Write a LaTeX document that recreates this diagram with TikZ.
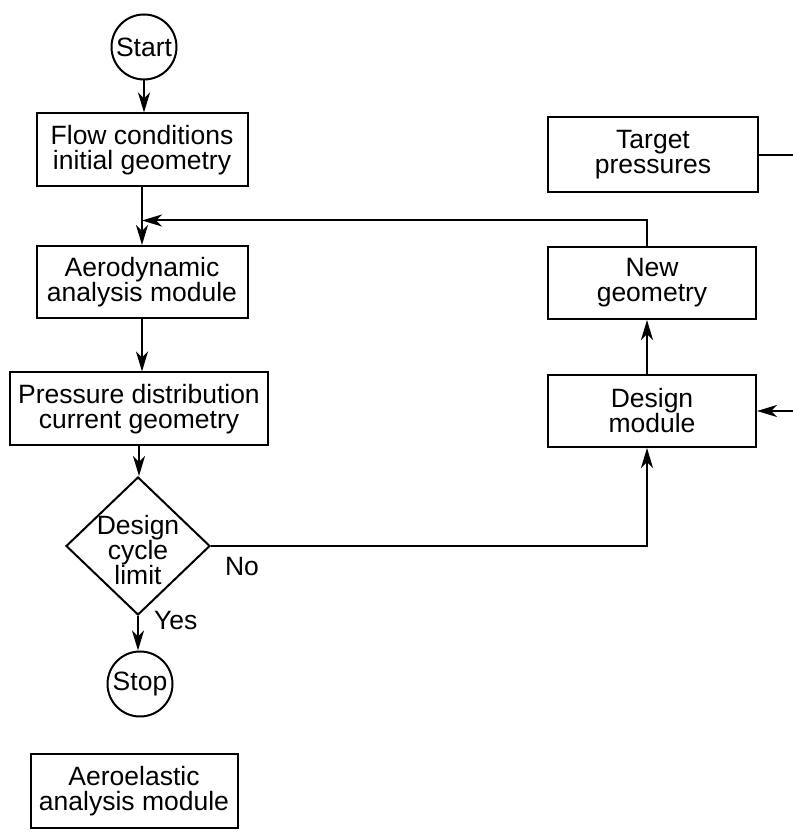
\documentclass[tikz,border=0pt]{standalone}
\usepackage{fontspec}
\setmainfont{Liberation Sans}
\usetikzlibrary{arrows.meta, positioning, shapes.geometric}

\begin{document}
\begin{tikzpicture}[x=1pt, y=1pt, line width=2pt, >={Stealth[length=20pt, width=12pt, inset=6pt]},
		every node/.style={font=\fontsize{26.5}{25}\selectfont, align=center},
		block/.style={draw, rectangle, minimum height=73pt, inner sep=0pt},
		term/.style={draw, circle, minimum size=65pt, inner sep=0pt},
		decision/.style={draw, diamond, minimum width=144pt, minimum height=138pt, inner sep=0pt},
		tag/.style={inner sep=0pt, anchor=north west}]
	\useasboundingbox (0,0) rectangle (792,832);

	% main column
	\node[term] (start) at (144,785) {Start};
	\node[block, minimum width=211pt] (flow) at (142,682) {Flow conditions\\initial geometry};
	\node[block, minimum width=211pt, minimum height=72pt] (aero) at (142,550) {Aerodynamic\\analysis module};
	\node[block, minimum width=258pt] (press) at (139,423) {Pressure distribution\\current geometry};
	\node[decision] (cycle) at (138,286) {};
	\node at ([yshift=-4pt]cycle) (cycletext) {Design\\cycle\\limit};
	\node[term] (stop) at (140,148) {Stop};
	\node[block, minimum width=207pt, minimum height=74pt] (aeroel) at (134,41) {Aeroelastic\\analysis module};

	% design loop
	\node[block, minimum width=208pt, minimum height=72pt] (design) at (652,421) {Design\\module};
	\node[block, minimum width=208pt, minimum height=72pt, above=54pt of design] (newgeo) {New\\geometry};
	\node[block, minimum width=210pt, minimum height=75pt] (target) at (653,677) {Target\\pressures};

	\coordinate (merge) at ([yshift=-33pt]flow.south);
	\coordinate (tgtend) at ([xshift=34pt]target.east);
	\coordinate (inend) at ([xshift=36pt]design.east);
	\coordinate (upcorner) at ([xshift=-5pt]newgeo.north |- merge);
	\coordinate (nocorner) at ([xshift=-5pt]design.south |- cycle.east);

	\draw[->] (start) -- (start |- flow.north);
	\draw[->] (flow) -- (aero);
	\draw[->] (aero) -- (aero.south |- press.north);
	\draw[->] (press.south) -- (press.south |- cycle.north);
	\draw[->] (cycle.south) -- node[tag, at start, xshift=15pt, yshift=6pt] (yes) {Yes} (cycle.south |- stop.north);
	\draw[->] (cycle.east) -- node[tag, at start, xshift=13pt, yshift=-10pt] (no) {No} (nocorner) -- ([xshift=-5pt]design.south);
	\draw[->] ([xshift=-5pt]design.north) -- ([xshift=-5pt]newgeo.south);
	\draw[->] ([xshift=-5pt]newgeo.north) -- (upcorner) -- (merge);
	\draw (target.east) -- (tgtend);
	\draw[->] (inend) -- (design.east);
\end{tikzpicture}
\end{document}
